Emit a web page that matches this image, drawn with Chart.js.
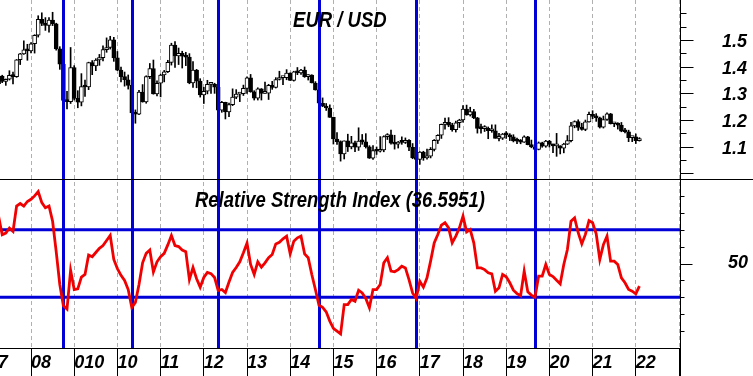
<!DOCTYPE html>
<html>
<head>
<meta charset="utf-8">
<script src="https://cdn.jsdelivr.net/npm/chart.js@4.4.1/dist/chart.umd.min.js"></script>
<style>
  html, body { margin: 0; padding: 0; background: #fff; overflow: hidden; }
  #wrap { position: absolute; left: -20px; top: 0; width: 773px; height: 376px; }
</style>
</head>
<body>
<div id="wrap"><canvas id="eurChart"></canvas></div>
<script>
// monthly EUR/USD candles, April 2007 .. February 2022
const firstMonth = 2007 + 3 / 12;

const opens = [
  1.336,1.365,1.345,1.353,1.368,1.363,1.426,1.448,1.463,
  1.459,1.486,1.518,1.578,1.562,1.555,1.575,1.561,1.467,1.409,1.274,1.269,
  1.397,1.281,1.267,1.325,1.324,1.415,1.403,1.425,1.434,1.464,1.472,1.501,
  1.433,1.387,1.363,1.351,1.330,1.227,1.222,1.305,1.268,1.363,1.393,1.298,
  1.338,1.369,1.381,1.416,1.481,1.440,1.450,1.439,1.436,1.339,1.387,1.346,
  1.294,1.308,1.334,1.334,1.323,1.237,1.266,1.230,1.258,1.286,1.297,1.299,
  1.319,1.358,1.306,1.282,1.317,1.300,1.301,1.330,1.322,1.352,1.359,1.359,
  1.376,1.349,1.381,1.377,1.387,1.363,1.369,1.339,1.313,1.263,1.252,1.245,
  1.210,1.129,1.119,1.073,1.122,1.099,1.115,1.098,1.121,1.118,1.100,1.057,
  1.086,1.083,1.088,1.138,1.145,1.113,1.110,1.117,1.116,1.124,1.098,1.059,
  1.052,1.080,1.058,1.065,1.090,1.124,1.143,1.184,1.191,1.181,1.164,1.190,
  1.200,1.241,1.219,1.232,1.208,1.169,1.168,1.169,1.160,1.160,1.131,1.132,
  1.147,1.145,1.137,1.122,1.121,1.117,1.137,1.108,1.099,1.090,1.115,1.102,
  1.121,1.109,1.103,1.103,1.095,1.110,1.123,1.178,1.194,1.172,1.165,1.193,
  1.221,1.214,1.208,1.173,1.202,1.223,1.186,1.187,1.181,1.158,1.156,1.134,
  1.137,1.123
];
const highs = [
  1.368,1.368,1.354,1.385,1.380,1.427,1.450,1.497,1.484,
  1.490,1.520,1.591,1.602,1.584,1.584,1.604,1.563,1.475,1.409,1.308,1.472,
  1.404,1.310,1.374,1.350,1.417,1.423,1.430,1.446,1.478,1.508,1.514,1.510,
  1.457,1.399,1.380,1.369,1.334,1.238,1.311,1.333,1.366,1.412,1.425,1.347,
  1.372,1.386,1.424,1.488,1.494,1.470,1.458,1.454,1.449,1.419,1.390,1.355,
  1.323,1.349,1.339,1.338,1.325,1.270,1.267,1.264,1.317,1.314,1.302,1.331,
  1.362,1.371,1.310,1.321,1.318,1.342,1.334,1.345,1.359,1.383,1.361,1.389,
  1.377,1.383,1.397,1.390,1.399,1.370,1.370,1.344,1.314,1.283,1.262,1.257,
  1.211,1.153,1.122,1.122,1.147,1.139,1.121,1.171,1.146,1.149,1.104,1.104,
  1.099,1.138,1.141,1.149,1.162,1.143,1.120,1.137,1.133,1.127,1.112,1.068,
  1.082,1.083,1.091,1.097,1.127,1.145,1.185,1.207,1.209,1.188,1.196,1.203,
  1.254,1.256,1.248,1.240,1.210,1.185,1.179,1.174,1.182,1.182,1.150,1.150,
  1.157,1.149,1.145,1.132,1.127,1.141,1.139,1.125,1.112,1.118,1.117,1.124,
  1.124,1.110,1.150,1.104,1.113,1.142,1.191,1.197,1.201,1.188,1.200,1.230,
  1.235,1.224,1.211,1.215,1.227,1.225,1.190,1.190,1.191,1.169,1.162,1.138,
  1.148,1.134
];
const lows = [
  1.333,1.340,1.330,1.350,1.335,1.360,1.408,1.446,1.424,
  1.452,1.451,1.511,1.554,1.536,1.529,1.554,1.462,1.390,1.233,1.242,1.262,
  1.275,1.246,1.253,1.289,1.314,1.370,1.385,1.405,1.422,1.454,1.466,1.420,
  1.385,1.343,1.327,1.316,1.214,1.188,1.220,1.267,1.263,1.355,1.297,1.290,
  1.287,1.343,1.378,1.406,1.397,1.408,1.395,1.404,1.336,1.322,1.321,1.286,
  1.262,1.298,1.300,1.300,1.235,1.229,1.204,1.213,1.254,1.280,1.269,1.292,
  1.300,1.304,1.275,1.275,1.275,1.300,1.277,1.315,1.320,1.350,1.333,1.351,
  1.348,1.346,1.370,1.371,1.360,1.350,1.339,1.312,1.259,1.250,1.236,1.210,
  1.110,1.109,1.046,1.054,1.082,1.092,1.081,1.086,1.109,1.095,1.056,1.052,
  1.071,1.080,1.081,1.127,1.110,1.091,1.095,1.109,1.112,1.085,1.055,1.035,
  1.034,1.049,1.053,1.058,1.084,1.112,1.131,1.166,1.175,1.158,1.155,1.172,
  1.192,1.218,1.215,1.205,1.151,1.151,1.157,1.130,1.154,1.132,1.122,1.127,
  1.131,1.123,1.118,1.111,1.111,1.116,1.107,1.096,1.088,1.088,1.098,1.098,
  1.099,1.078,1.064,1.073,1.077,1.108,1.118,1.171,1.161,1.162,1.160,1.192,
  1.205,1.195,1.170,1.170,1.199,1.185,1.175,1.166,1.156,1.152,1.119,1.119,
  1.112,1.121
];
const closes = [
  1.365,1.345,1.353,1.368,1.363,1.426,1.448,1.463,1.459,
  1.486,1.518,1.578,1.562,1.555,1.575,1.561,1.467,1.409,1.274,1.269,1.397,
  1.281,1.267,1.325,1.324,1.415,1.403,1.425,1.434,1.464,1.472,1.501,1.433,
  1.387,1.363,1.351,1.330,1.227,1.222,1.305,1.268,1.363,1.393,1.298,1.338,
  1.369,1.381,1.416,1.481,1.440,1.450,1.439,1.436,1.339,1.387,1.346,1.294,
  1.308,1.334,1.334,1.323,1.237,1.266,1.230,1.258,1.286,1.297,1.299,1.319,
  1.358,1.306,1.282,1.317,1.300,1.301,1.330,1.322,1.352,1.359,1.359,1.376,
  1.349,1.381,1.377,1.387,1.363,1.369,1.339,1.313,1.263,1.252,1.245,1.210,
  1.129,1.119,1.073,1.122,1.099,1.115,1.098,1.121,1.118,1.100,1.057,1.086,
  1.083,1.088,1.138,1.145,1.113,1.110,1.117,1.116,1.124,1.098,1.059,1.052,
  1.080,1.058,1.065,1.090,1.124,1.143,1.184,1.191,1.181,1.164,1.190,1.200,
  1.241,1.219,1.232,1.208,1.169,1.168,1.169,1.160,1.160,1.131,1.132,1.147,
  1.145,1.137,1.122,1.121,1.117,1.137,1.108,1.099,1.090,1.115,1.102,1.121,
  1.109,1.103,1.103,1.095,1.110,1.123,1.178,1.194,1.172,1.165,1.193,1.221,
  1.214,1.208,1.173,1.202,1.223,1.186,1.187,1.181,1.158,1.156,1.134,1.137,
  1.123,1.130
];
const rsi = [
  78,67,68,71,69,84,85.5,84,86.7,
  88,90,92.6,86,83,84,75,57,37.6,25,23,46,
  34.6,35,42,43.5,55,54,56.5,59,60.6,63.6,66.6,52.4,
  47,43,40,34.6,24,27,37.6,50.4,56,58,45,51,
  54,56,61,66.6,60.6,60,58,57,40.5,47.6,41,36,
  41.7,44.7,44,41.7,34,34.6,32.8,39,44.7,47.6,51,56.3,
  62,49.4,43.5,51,47.8,50.4,53.4,55.3,61.6,62.6,64.6,66.2,
  55.7,63.2,65.2,66.2,55.7,53.4,43.5,34.6,25.3,24.1,21.4,15.9,
  11.6,10,8.4,25.7,25.7,28.7,27.7,34.2,32.6,29.3,23.8,34.6,
  34.6,37.6,50.4,53.4,45.5,45.1,46.4,48.4,47.4,40.5,32.6,29.3,
  39.5,36,41.5,51.4,62.2,67.2,72.7,74.1,71.1,62.2,66.2,71.1,
  78,68.7,70.1,62.2,47.4,47.4,46.4,44.5,43.9,33.6,35.6,43.5,
  42.1,38.6,34.2,32.2,30.9,45.5,33.2,31.3,30,42.5,42.5,49.4,
  43.5,42.3,40.1,38,49.4,58.3,75,77,68.2,61.6,67.2,75.4,
  74.1,67.6,52.4,61.2,66.2,51.4,51.4,49.4,41.5,38.6,34.6,33.6,
  32,36.5951
];

const signalMonths = ['2008-10', '2010-05', '2012-05', '2014-09', '2016-12', '2019-09'];
const rsiBands = [70, 30];

const yearTicks = [2007,2008,2009,2010,2011,2012,2013,2014,2015,2016,2017,2018,2019,2020,2021,2022,2023];
const yearLabels = ['07','08','010','10','11','12','13','14','15','16','17','18','19','20','21','22',''];
const priceTicks = [1.0,1.05,1.1,1.15,1.2,1.25,1.3,1.35,1.4,1.45,1.5,1.55,1.6];
const priceLabels = ['1.1','1.2','1.3','1.4','1.5'];
const rsiTicks = [10,20,30,40,50,60,70,80,90];
const rsiLabels = ['50'];

const BLUE = 'rgb(0,0,215)';
const RED = 'rgb(240,0,0)';
const FAMILY = '"Liberation Sans", Arial, sans-serif';
const tickFont = { family: FAMILY, size: 18, weight: 'bold', style: 'italic' };
const xMin = 2006.8194, xMax = 2023.0231;

const monthX = opens.map((_, i) => firstMonth + i / 12);
const monthValue = s => { const [y, m] = s.split('-').map(Number); return y + (m - 1) / 12; };

const frame = {
  id: 'frame',
  beforeDatasetDraw(chart, args) {
    if (args.index !== 0) return;
    const { ctx, chartArea, scales } = chart;
    ctx.save();
    ctx.strokeStyle = BLUE;
    ctx.lineWidth = 3;
    signalMonths.forEach(s => {
      const px = Math.round(scales.x.getPixelForValue(monthValue(s))) + 0.5;
      ctx.beginPath();
      ctx.moveTo(px, chartArea.top);
      ctx.lineTo(px, chartArea.bottom);
      ctx.stroke();
    });
    ctx.restore();
  },
  afterDraw(chart) {
    const { ctx, chartArea, scales, width, height } = chart;
    const yP = scales.yP, yR = scales.yR;
    ctx.save();
    ctx.strokeStyle = '#000';
    ctx.lineWidth = 1;
    ctx.beginPath();
    const rx = Math.round(chartArea.right) + 0.5;
    ctx.moveTo(rx, 0); ctx.lineTo(rx, height);
    const by = Math.round(chartArea.bottom) + 0.5;
    ctx.moveTo(0, by); ctx.lineTo(rx, by);
    const sy = Math.round(yR.top) + 0.5;
    ctx.moveTo(0, sy); ctx.lineTo(width, sy);
    // right axis tick marks
    yP.ticks.forEach(t => {
      const y = Math.round(yP.getPixelForValue(t.value)) + 0.5;
      const major = Math.abs(t.value * 10 - Math.round(t.value * 10)) < 1e-6 && t.value <= 1.5;
      ctx.moveTo(rx, y); ctx.lineTo(rx + (major ? 13 : 6), y);
    });
    yR.ticks.forEach(t => {
      const y = Math.round(yR.getPixelForValue(t.value)) + 0.5;
      ctx.moveTo(rx, y); ctx.lineTo(rx + (t.value === 50 ? 12 : 4), y);
    });
    ctx.stroke();

    // panel titles
    ctx.fillStyle = '#000';
    ctx.font = 'italic bold 18.5px ' + FAMILY;
    ctx.textAlign = 'center';
    ctx.textBaseline = 'alphabetic';
    const cx = scales.x.getPixelForValue(2015.15);
    const titles = [['EUR / USD', yP.top + 27], ['Relative Strength Index (' + rsi[rsi.length - 1].toFixed(4) + ')', yR.top + 27.5]];
    titles.forEach(([text, base]) => {
      ctx.save();
      ctx.translate(cx, base);
      ctx.scale(1, 1.2);
      ctx.fillText(text, 0, 0);
      ctx.restore();
    });
    ctx.restore();
  }
};

document.addEventListener('DOMContentLoaded', function () {
  const ctx = document.getElementById('eurChart').getContext('2d');
  new Chart(ctx, {
    type: 'bar',
    data: {
      datasets: [
        {
          type: 'line',
          label: 'RSI',
          yAxisID: 'yR',
          data: monthX.map((x, i) => ({ x: x, y: rsi[i] })),
          borderColor: RED,
          borderWidth: 2.8,
          pointRadius: 0,
          tension: 0,
          order: 0
        },
        {
          label: 'Body',
          yAxisID: 'yP',
          data: monthX.map((x, i) => ({ x: x, y: [opens[i], closes[i]] })),
          backgroundColor: c => closes[c.dataIndex] >= opens[c.dataIndex] ? '#fff' : '#000',
          borderColor: '#000',
          borderWidth: 1,
          borderSkipped: false,
          barThickness: 4,
          minBarLength: 2,
          grouped: false,
          order: 1
        },
        {
          label: 'Wick',
          yAxisID: 'yP',
          data: monthX.map((x, i) => ({ x: x, y: [lows[i], highs[i]] })),
          backgroundColor: '#000',
          barThickness: 1,
          grouped: false,
          order: 2
        },
        ...rsiBands.map(level => ({
          type: 'line',
          label: 'band ' + level,
          yAxisID: 'yR',
          data: [{ x: xMin, y: level }, { x: xMax, y: level }],
          borderColor: BLUE,
          borderWidth: 3,
          pointRadius: 0,
          order: 3
        }))
      ]
    },
    options: {
      responsive: true,
      maintainAspectRatio: false,
      animation: false,
      layout: { padding: 0 },
      plugins: { legend: { display: false }, tooltip: { enabled: false } },
      scales: {
        x: {
          type: 'linear',
          min: xMin,
          max: xMax,
          offset: false,
          afterBuildTicks: s => { s.ticks = yearTicks.map(v => ({ value: v })); },
          afterFit: s => { s.height = 28; s.paddingLeft = 0; s.paddingRight = 0; },
          grid: {
            offset: false,
            color: '#b0b0b0',
            borderDash: [4, 3],
            tickLength: 28,
            tickColor: '#000',
            tickBorderDash: [],
            tickWidth: 1
          },
          border: { display: false, dash: [4, 3] },
          ticks: {
            align: 'start',
            padding: -24,
            autoSkip: false,
            maxRotation: 0,
            minRotation: 0,
            color: '#000',
            font: tickFont,
            callback: (v, i) => yearLabels[i] ?? ''
          }
        },
        yP: {
          type: 'linear',
          position: 'right',
          stack: 'panes',
          stackWeight: 179,
          min: 0.979,
          max: 1.65,
          beginAtZero: false,
          afterBuildTicks: s => { s.ticks = priceTicks.map(v => ({ value: v })); },
          afterFit: s => { s.width = 73; s.paddingTop = 0; s.paddingBottom = 0; },
          grid: { display: false, drawTicks: false },
          border: { display: false },
          ticks: {
            padding: 42,
            labelOffset: 2,
            crossAlign: 'near',
            autoSkip: false,
            color: '#000',
            font: tickFont,
            callback: v => {
              const txt = v.toFixed(1);
              return Math.abs(v * 10 - Math.round(v * 10)) < 1e-6 && priceLabels.includes(txt) ? txt : '';
            }
          }
        },
        yR: {
          type: 'linear',
          position: 'right',
          stack: 'panes',
          stackWeight: 169,
          min: 0,
          max: 100,
          beginAtZero: false,
          afterBuildTicks: s => { s.ticks = rsiTicks.map(v => ({ value: v })); },
          afterFit: s => { s.width = 73; s.paddingTop = 0; s.paddingBottom = 0; },
          grid: { display: false, drawTicks: false },
          border: { display: false },
          ticks: {
            padding: 48,
            crossAlign: 'near',
            autoSkip: false,
            color: '#000',
            font: tickFont,
            callback: v => rsiLabels.includes(String(v)) ? String(v) : ''
          }
        }
      }
    },
    plugins: [frame]
  });
});
</script>
</body>
</html>
